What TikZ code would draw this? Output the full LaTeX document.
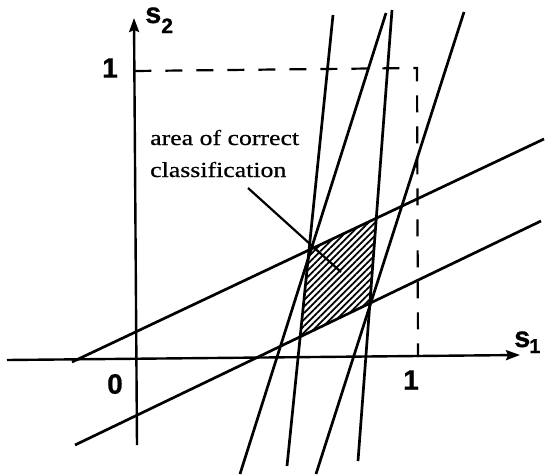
\documentclass[tikz,border=0pt]{standalone}
\usepackage{fontspec}
\setmainfont{Liberation Serif}
\newfontfamily\lblfont[FakeStretch=1.2,FakeBold=0.6]{Liberation Serif}
\newfontfamily\axfont[FakeBold=0.8]{Liberation Sans}
\usetikzlibrary{arrows.meta,patterns.meta}
\tikzset{
  axisline/.style={line width=2.4pt,-{Stealth[length=14pt,width=10pt,inset=2pt]}},
  bline/.style={line width=2.7pt},
  dashline/.style={line width=2.2pt,dash pattern=on 17pt off 14pt},
  ptrline/.style={line width=2.2pt},
  numlbl/.style={inner sep=0pt,font=\axfont\bfseries\fontsize{28}{28}\selectfont},
  txtlbl/.style={inner sep=0pt,anchor=base west,font=\lblfont\fontsize{21.5}{25}\selectfont},
  hatch/.style={pattern={Lines[angle=45,distance=4.6pt,line width=1.7pt]}}
}
\begin{document}
\begin{tikzpicture}[x=1pt,y=-1pt]
\useasboundingbox (0,0) rectangle (546,474);
% line end points
\coordinate (ua) at (72,362);  \coordinate (ub) at (544,139);
\coordinate (la) at (75,445);  \coordinate (lb) at (541,221);
\coordinate (p1a) at (333,15); \coordinate (p1b) at (287,466);
\coordinate (p2a) at (386,13); \coordinate (p2b) at (240,474);
\coordinate (p3a) at (392,10); \coordinate (p3b) at (358,461);
\coordinate (p4a) at (464,12); \coordinate (p4b) at (316,474);
% shaded region
\coordinate (r1) at (intersection of ua--ub and p1a--p1b);
\coordinate (r2) at (intersection of ua--ub and p3a--p3b);
\coordinate (r3) at (intersection of la--lb and p3a--p3b);
\coordinate (r4) at (intersection of la--lb and p1a--p1b);
\fill[hatch] (r1) -- (r2) -- (r3) -- (r4) -- cycle;
% dashed unit square corner
\coordinate (d1) at (134.4,71);
\coordinate (d2) at (417,68);
\coordinate (d3) at (418,357);
\draw[dashline] (d1) -- (d2) -- (d3);
% axes
\coordinate (hx0) at (7,360);  \coordinate (hx1) at (520,355);
\coordinate (vy0) at (137,445); \coordinate (vy1) at (134,18);
\draw[axisline] (hx0) -- (hx1);
\draw[axisline] (vy0) -- (vy1);
% lines
\draw[bline] (ua) -- (ub);
\draw[bline] (la) -- (lb);
\draw[bline] (p1a) -- (p1b);
\draw[bline] (p2a) -- (p2b);
\draw[bline] (p3a) -- (p3b);
\draw[bline] (p4a) -- (p4b);
% axis labels
\node[numlbl] (zero) at (115,384) {0};
\node[numlbl] (oneA) at (411,380) {1};
\node[numlbl] (oneB) at (110,68) {1};
\node[inner sep=0pt,anchor=base west] (sy) at (145,23)
  {\axfont\bfseries\fontsize{29}{29}\selectfont s\raisebox{-10pt}{\fontsize{21}{21}\selectfont 2}};
\node[inner sep=0pt,anchor=base west] (sx) at (514,347)
  {\axfont\bfseries\fontsize{29}{29}\selectfont s\kern-1pt\raisebox{-6pt}{\fontsize{20}{20}\selectfont 1}};
% label and pointer
\node[txtlbl] (lblA) at (150,145) {area of correct};
\node[txtlbl] (lblB) at (150,177) {classification};
\coordinate (q0) at (248,188);
\coordinate (q1) at (341,272);
\draw[ptrline] (q0) -- (q1);
\end{tikzpicture}
\end{document}
